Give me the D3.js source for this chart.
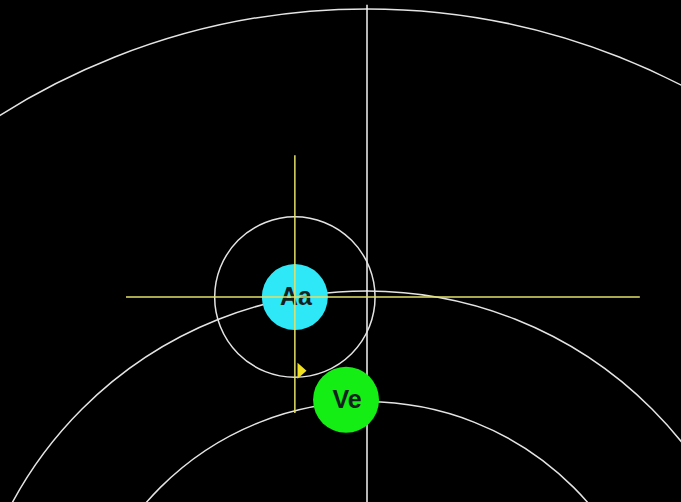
<!DOCTYPE html>
<html>
<head>
<meta charset="utf-8">
<script src="https://cdn.jsdelivr.net/npm/d3@7"></script>
<style>
  body { margin: 0; background: #000; }
  svg { display: block; }
</style>
</head>
<body>
<svg id="orbit-view"></svg>
<script>
// Orbit radii (AU, sun at origin)
const orbitRadii = [0.725, 1.0, 1.70];

// Bodies: name, position (AU), fill colour
const bodyNames = ["Aa", "Ve"];
const bodyX = [-0.179, -0.052];
const bodyY = [0.985, 0.73];
const bodyColors = ["#2ee8f8", "#14ee14"];

// Ring around Aa (AU radius)
const ringRadius = 0.199;

// Yellow crosshair on Aa: horizontal extent and vertical extent (AU)
const crossX = [-0.598, 0.677];
const crossY = [0.697, 1.337];

// Sun direction line (x = 0), from sun up to top
const sunLineY = [0, 1.71];

// small yellow marker
const markerPos = [-0.165, 0.802];

const svgWidth = 681;
const svgHeight = 502;
const pxPerAU = 403;
const sun = {x: 367, y: 694};

const xScale = d3.scaleLinear()
  .domain([0, 1])
  .range([sun.x, sun.x + pxPerAU]);

const yScale = d3.scaleLinear()
  .domain([0, 1])
  .range([sun.y, sun.y - pxPerAU]);

const rScale = d3.scaleLinear()
  .domain([0, 1])
  .range([0, pxPerAU]);

const svg = d3.select("svg#orbit-view")
  .attr("width", svgWidth)
  .attr("height", svgHeight);

svg.append("rect")
  .attr("width", svgWidth)
  .attr("height", svgHeight)
  .attr("fill", "#000");

// orbits
svg.selectAll("circle.orbit")
  .data(orbitRadii)
  .enter()
  .append("circle")
  .attr("class", "orbit")
  .attr("cx", xScale(0))
  .attr("cy", yScale(0))
  .attr("r", d => rScale(d))
  .attr("fill", "none")
  .attr("stroke", "#e4e4e4")
  .attr("stroke-width", 1.5);

// sun line
svg.append("line")
  .attr("x1", xScale(0))
  .attr("x2", xScale(0))
  .attr("y1", yScale(sunLineY[0]))
  .attr("y2", yScale(sunLineY[1]))
  .attr("stroke", "#f4f4f4")
  .attr("stroke-width", 1.5);

// ring around Aa
svg.append("circle")
  .attr("cx", xScale(bodyX[0]))
  .attr("cy", yScale(bodyY[0]))
  .attr("r", rScale(ringRadius))
  .attr("fill", "none")
  .attr("stroke", "#e4e4e4")
  .attr("stroke-width", 1.5);

// crosshair
svg.append("line")
  .attr("x1", xScale(crossX[0]))
  .attr("x2", xScale(crossX[1]))
  .attr("y1", yScale(bodyY[0]))
  .attr("y2", yScale(bodyY[0]))
  .attr("stroke", "#e2e068")
  .attr("stroke-width", 1.5);

svg.append("line")
  .attr("x1", xScale(bodyX[0]))
  .attr("x2", xScale(bodyX[0]))
  .attr("y1", yScale(crossY[0]))
  .attr("y2", yScale(crossY[1]))
  .attr("stroke", "#e2e068")
  .attr("stroke-width", 1.5);

// marker
svg.append("path")
  .attr("d", "M0,-8 L0,8 L9,0 Z")
  .attr("transform", "translate(" + (xScale(markerPos[0]) - 3) + "," + yScale(markerPos[1]) + ")")
  .attr("fill", "#f0e020");

// bodies
const bodies = svg.selectAll("g.body")
  .data(bodyNames)
  .enter()
  .append("g")
  .attr("class", "body")
  .attr("transform", (d, i) => "translate(" + xScale(bodyX[i]) + "," + yScale(bodyY[i]) + ")");

bodies.append("circle")
  .attr("r", 33)
  .attr("fill", (d, i) => bodyColors[i]);

bodies.append("text")
  .text(d => d)
  .attr("text-anchor", "middle")
  .attr("x", 1)
  .attr("y", 8)
  .style("font-family", "'Liberation Sans', Arial, sans-serif")
  .style("font-weight", "bold")
  .style("font-size", "25px")
  .style("fill", "#142020");

// redraw the crosshair over Aa's disc
svg.append("line")
  .attr("x1", xScale(bodyX[0]))
  .attr("x2", xScale(bodyX[0]))
  .attr("y1", yScale(bodyY[0]) - 33)
  .attr("y2", yScale(bodyY[0]) + 33)
  .attr("stroke", "#e2e068")
  .attr("stroke-width", 1.5);

svg.append("line")
  .attr("x1", xScale(bodyX[0]) - 33)
  .attr("x2", xScale(bodyX[0]) + 33)
  .attr("y1", yScale(bodyY[0]))
  .attr("y2", yScale(bodyY[0]))
  .attr("stroke", "#e2e068")
  .attr("stroke-width", 1.5);
</script>
</body>
</html>
